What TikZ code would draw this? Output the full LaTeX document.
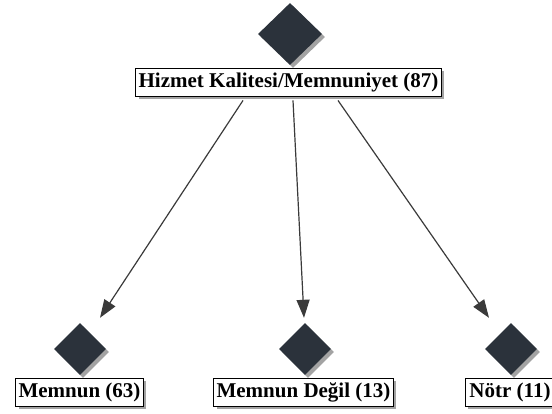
\documentclass[tikz,border=0pt]{standalone}
\usepackage{fontspec}
\setmainfont{Liberation Serif}
\usetikzlibrary{shapes.geometric,shadows,arrows.meta}
\definecolor{gemfill}{HTML}{2B323B}
\definecolor{shade}{HTML}{A3A3A3}
\definecolor{wire}{HTML}{3A3A3A}
\tikzset{
  gem/.style={diamond, fill=gemfill, inner sep=0pt, minimum width=52pt, minimum height=52pt,
    drop shadow={shadow xshift=3pt, shadow yshift=-3pt, fill=shade, opacity=1}},
  tag/.style={draw=black, fill=white, line width=0.9pt, inner xsep=3pt, inner ysep=0pt,
    minimum height=28pt, font=\fontsize{21}{24}\selectfont\bfseries,
    drop shadow={shadow xshift=3pt, shadow yshift=-3pt, fill=shade, opacity=1}},
  link/.style={draw=wire, line width=1.2pt, -{Triangle[length=18pt,width=13pt]}}
}

\begin{document}
\begin{tikzpicture}[x=1pt, y=-1pt]
  \useasboundingbox (0,0) rectangle (552,414);
  % root
  \node[gem, minimum width=64pt, minimum height=62pt] (g0) at (290,34) {};
  \node[tag] (top) at (288.5,82) {Hizmet Kalitesi/Memnuniyet (87)};
  % leaves
  \node[gem] (g1) at (80,349) {};
  \node[tag] (t1) at (79.5,392) {Memnun (63)};
  \node[gem] (g2) at (305,349) {};
  \node[tag] (t2) at (303.5,392) {Memnun De\u{g}il (13)};
  \node[gem] (g3) at (511,349) {};
  \node[tag, minimum width=90pt] (t3) at (510,392) {N\"otr (11)};
  % branches
  \foreach \s/\g/\e in {-45.5/g1/20, 4.5/g2/-1, 49.5/g3/-22} {
    \draw[link] ([xshift=\s pt, yshift=-4pt]top.south) -- ([xshift=\e pt, yshift=5pt]\g.north);
  }
\end{tikzpicture}
\end{document}
